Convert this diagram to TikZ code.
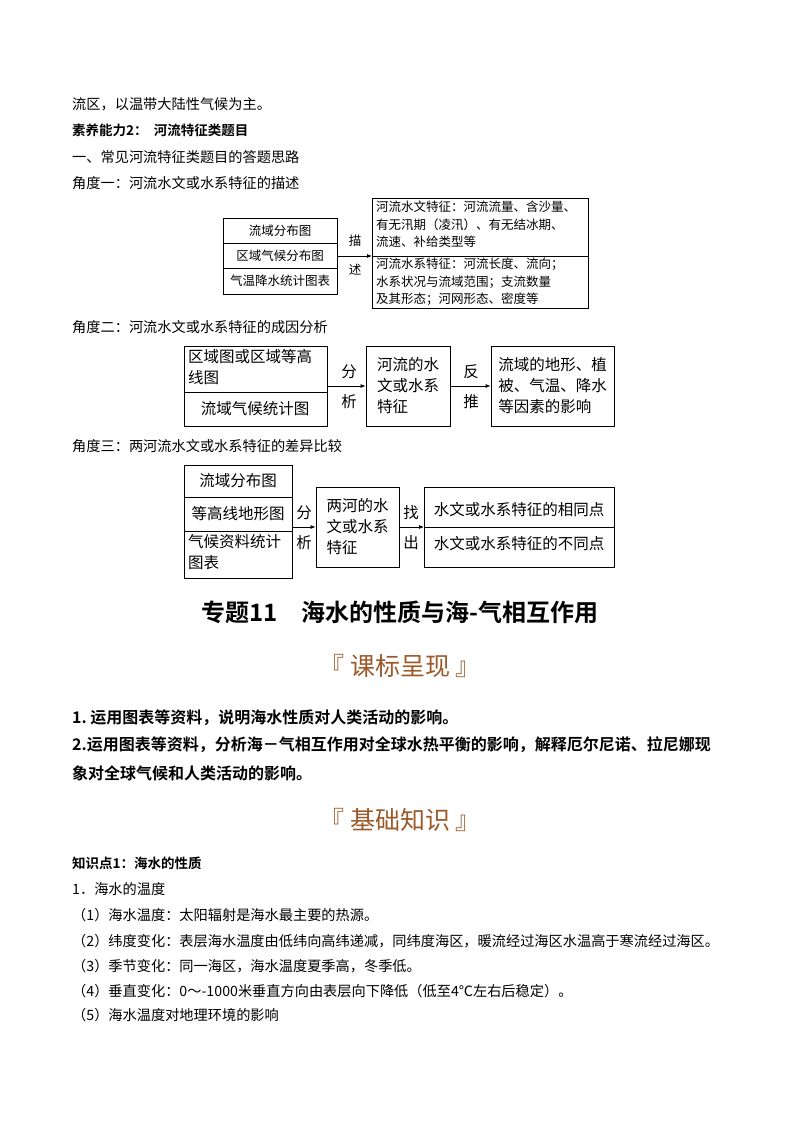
\documentclass[tikz,border=0pt]{standalone}
\usepackage{fontspec}
\setmainfont{Noto Sans CJK SC}
\newfontfamily\cjkb{Noto Sans CJK SC Bold}
\usetikzlibrary{arrows.meta}
\definecolor{brn}{HTML}{9C5A2A}
\begin{document}
\begin{tikzpicture}[x=1pt,y=-1pt,
  txt/.style={anchor=west,inner sep=0,font=\fontsize{14.2}{16}\selectfont},
  btxt/.style={anchor=west,inner sep=0,font=\cjkb\fontsize{16}{18}\selectfont},
  bx/.style={draw,line width=0.8pt},
  d1/.style={inner sep=0,font=\fontsize{12.5}{15}\selectfont},
  d2/.style={inner sep=0,font=\fontsize{15.5}{21}\selectfont},
  arr/.style={-{Latex[length=5pt,width=4pt]},line width=0.8pt}]
\useasboundingbox (0,0) rectangle (800,1132);
\fill[white] (0,0) rectangle (800,1132);
\node[txt] (t1) at (72,104) {流区，以温带大陆性气候为主。};
\node[btxt,font=\cjkb\fontsize{13.5}{16}\selectfont] (t2) at (72,130) {素养能力2：\ \ 河流特征类题目};
\node[txt] (t3) at (72,157) {一、常见河流特征类题目的答题思路};
\node[txt] (t4) at (72,183) {角度一：河流水文或水系特征的描述};
% diagram 1
\draw[bx] (223,218) rectangle (337,294);
\draw[bx] (223,243) -- (337,243) (223,268) -- (337,268);
\node[d1] (a1) at (280,231) {流域分布图};
\node[d1] (a2) at (280,256) {区域气候分布图};
\node[d1] (a3) at (280,281) {气温降水统计图表};
\draw[bx] (372,198) rectangle (588,308);
\draw[bx] (372,256) -- (588,256);
\coordinate (l1) at (337,256); \coordinate (r1) at (372,256);
\draw[arr] (l1) -- (r1);
\node[d1] (m1) at (355,241) {描};
\node[d1] (m2) at (355,270) {述};
\node[d1,anchor=north west,align=left,font=\fontsize{12.5}{17.5}\selectfont] (b1) at (376,201) {河流水文特征：河流流量、含沙量、\\有无汛期（凌汛）、有无结冰期、\\流速、补给类型等};
\node[d1,anchor=north west,align=left,font=\fontsize{12.5}{17.5}\selectfont] (b2) at (376,258) {河流水系特征：河流长度、流向；\\水系状况与流域范围；支流数量\\及其形态；河网形态、密度等};
\node[txt] (t5) at (72,327) {角度二：河流水文或水系特征的成因分析};
% diagram 2
\draw[bx] (184,346) rectangle (327,426); \draw[bx] (184,392) -- (327,392);
\node[d2,anchor=north west,align=left] (c1) at (188,349) {区域图或区域等高\\线图};
\node[d2] (c2) at (255,409) {流域气候统计图};
\node[bx,d2,minimum width=84pt,minimum height=80pt,align=left] (c3) at (408,386) {河流的水\\文或水系\\特征};
\node[bx,d2,minimum width=123pt,minimum height=80pt,align=left] (c4) at (552.5,386) {流域的地形、植\\被、气温、降水\\等因素的影响};
\coordinate (l2) at (327,386);
\draw[arr] (l2) -- (c3.west);
\draw[arr] (c3.east) -- (c4.west);
\node[d2] (m3) at (349,372) {分}; \node[d2] (m4) at (349,402) {析};
\node[d2] (m5) at (471,372) {反}; \node[d2] (m6) at (471,402) {推};
\node[txt] (t6) at (72,446) {角度三：两河流水文或水系特征的差异比较};
% diagram 3
\draw[bx] (184,465) rectangle (292,578);
\draw[bx] (184,497) -- (292,497) (184,531) -- (292,531);
\node[d2] (e1) at (238,481) {流域分布图};
\node[d2] (e2) at (238,514) {等高线地形图};
\node[d2,anchor=north west,align=left] (e3) at (188,534) {气候资料统计\\图表};
\node[bx,d2,minimum width=83pt,minimum height=80pt,align=left] (e4) at (357.5,527) {两河的水\\文或水系\\特征};
\draw[bx] (424,487) rectangle (614,567); \draw[bx] (424,527) -- (614,527);
\node[d2] (e5) at (519,510) {水文或水系特征的相同点};
\node[d2] (e6) at (519,544) {水文或水系特征的不同点};
\coordinate (l3) at (292,527); \coordinate (r3) at (424,527);
\draw[arr] (l3) -- (e4.west);
\draw[arr] (e4.east) -- (r3);
\node[d2] (m7) at (304,513) {分}; \node[d2] (m8) at (304,543) {析};
\node[d2] (m9) at (411,513) {找}; \node[d2] (m10) at (411,543) {出};
% titles
\node[inner sep=0,font=\cjkb\fontsize{24}{26}\selectfont] (h1) at (400,612) {专题11\quad 海水的性质与海-气相互作用};
\node[inner sep=0,text=brn,font=\fontsize{25}{27}\selectfont] (h2) at (400,666) {『\ 课标呈现\ 』};
\node[btxt] (p1) at (72,718) {1.\ 运用图表等资料，说明海水性质对人类活动的影响。};
\node[btxt] (p2) at (72,745) {2.运用图表等资料，分析海－气相互作用对全球水热平衡的影响，解释厄尔尼诺、拉尼娜现};
\node[btxt] (p3) at (72,773) {象对全球气候和人类活动的影响。};
\node[inner sep=0,text=brn,font=\fontsize{25}{27}\selectfont] (h3) at (400,820) {『\ 基础知识\ 』};
\node[btxt,font=\cjkb\fontsize{13.5}{16}\selectfont] (k0) at (72,863) {知识点1：海水的性质};
\node[txt] (k1) at (72,889) {1．海水的温度};
\node[txt] (k2) at (72,915) {（1）海水温度：太阳辐射是海水最主要的热源。};
\node[txt] (k3) at (72,941) {（2）纬度变化：表层海水温度由低纬向高纬递减，同纬度海区，暖流经过海区水温高于寒流经过海区。};
\node[txt] (k4) at (72,966) {（3）季节变化：同一海区，海水温度夏季高，冬季低。};
\node[txt] (k5) at (72,991) {（4）垂直变化：0～-1000米垂直方向由表层向下降低（低至4℃左右后稳定）。};
\node[txt] (k6) at (72,1015) {（5）海水温度对地理环境的影响};
\end{tikzpicture}
\end{document}
